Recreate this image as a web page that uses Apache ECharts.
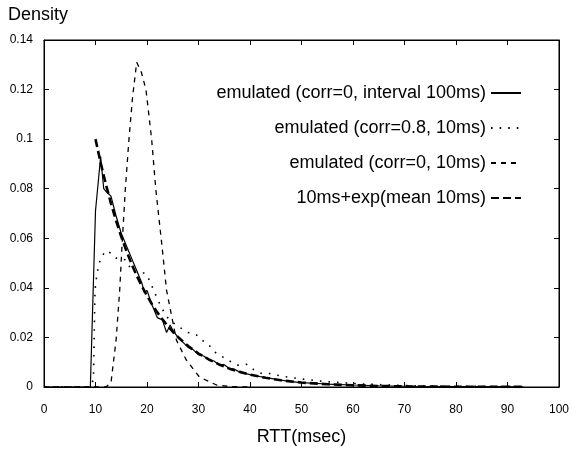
<!DOCTYPE html>
<html>
<head>
<meta charset="utf-8">
<script src="https://cdn.jsdelivr.net/npm/echarts@6/dist/echarts.min.js"></script>
<style>
  html, body { margin: 0; padding: 0; background: #fff; }
  #chart { width: 572px; height: 452px; }
</style>
</head>
<body>
<div id="chart"></div>
<script>
// legend names
var names = [
  'emulated (corr=0, interval 100ms)',
  'emulated (corr=0.8, 10ms)',
  'emulated (corr=0, 10ms)',
  '10ms+exp(mean 10ms)'
];

// corr=0, interval 100ms (solid)
var rttSolid  = [0, 9, 10, 11, 11.6, 12, 13, 14, 15, 16, 17, 18, 19, 19.5, 20, 21, 22, 23, 23.8, 24.5, 25, 26, 27, 28, 29, 30, 31, 32, 33, 34, 35, 36, 37, 38, 40, 42, 44, 46, 48, 50, 55, 60, 65, 70, 80, 93];
var densSolid = [0, 0, 0.071, 0.093, 0.080, 0.079, 0.077, 0.069, 0.062, 0.057, 0.052, 0.047, 0.042, 0.038, 0.039, 0.033, 0.028, 0.027, 0.022, 0.025, 0.023, 0.020, 0.018, 0.016, 0.015, 0.013, 0.0125, 0.011, 0.0105, 0.009, 0.009, 0.0075, 0.0072, 0.006, 0.005, 0.0042, 0.0035, 0.0028, 0.0022, 0.0018, 0.0012, 0.0008, 0.0005, 0.0003, 0.0002, 0.0001];

// corr=0.8, 10ms (dotted)
var rttDot  = [0, 9, 9.6, 9.9, 10.3, 11, 12, 13, 14, 15, 16, 17, 18, 19, 19.6, 20.5, 21.5, 22.8, 24, 25, 26.4, 28, 29.6, 30.6, 32, 33, 34.4, 36, 37.7, 39.3, 40.7, 42.2, 44, 46, 49.3, 52, 54.7, 58, 62, 66, 70, 75, 80, 86, 93];
var densDot = [0, 0, 0.003, 0.039, 0.046, 0.052, 0.055, 0.054, 0.052, 0.052, 0.051, 0.047, 0.046, 0.046, 0.046, 0.043, 0.038, 0.032, 0.028, 0.026, 0.024, 0.022, 0.021, 0.019, 0.017, 0.0143, 0.0125, 0.0105, 0.0088, 0.0092, 0.007, 0.0055, 0.0054, 0.0044, 0.0034, 0.0028, 0.0022, 0.0017, 0.0012, 0.0009, 0.0006, 0.0004, 0.0003, 0.0002, 0.0001];

// corr=0, 10ms (dashed)
var rttDash  = [0, 12, 13, 14, 14.7, 15.2, 15.8, 16.5, 17.2, 18, 18.9, 19.8, 20.9, 21.7, 22.8, 23.8, 25.7, 27.6, 30.2, 33.5, 36, 40];
var densDash = [0, 0, 0.0016, 0.019, 0.039, 0.059, 0.080, 0.100, 0.117, 0.131, 0.127, 0.120, 0.100, 0.080, 0.059, 0.039, 0.019, 0.011, 0.004, 0.0008, 0.0002, 0];

// 10ms + exp(mean 10ms) (thick dashed)
var rttExp  = [10, 11, 12, 13, 14, 15, 16, 17, 18, 19, 20, 21, 22, 23, 24, 25, 26, 27, 28, 29, 30, 32, 34, 36, 38, 40, 43, 46, 50, 55, 60, 65, 70, 80, 93];
var densExp = [0.100, 0.0905, 0.0819, 0.0741, 0.0670, 0.0607, 0.0549, 0.0497, 0.0449, 0.0407, 0.0368, 0.0333, 0.0301, 0.0273, 0.0247, 0.0223, 0.0202, 0.0183, 0.0165, 0.0150, 0.0135, 0.0111, 0.0091, 0.0074, 0.0061, 0.0050, 0.0037, 0.0027, 0.0018, 0.0011, 0.0007, 0.0004, 0.00025, 0.0001, 0.00003];

function pairs(xs, ys) {
  return xs.map(function (x, i) { return [x, ys[i]]; });
}

var font = 'Liberation Sans, Arial, Helvetica, sans-serif';
var chart = echarts.init(document.getElementById('chart'), null, { renderer: 'canvas' });

// gnuplot style: frame on all sides, ticks pointing inward
function axisCommon(extra) {
  var base = {
    axisLine: { show: true, onZero: false, lineStyle: { color: '#000', width: 1 } },
    axisTick: { show: true, inside: true, length: 5, lineStyle: { color: '#000', width: 1 } },
    splitLine: { show: false },
    axisLabel: { color: '#000', fontSize: 12, fontFamily: font }
  };
  for (var k in extra) base[k] = extra[k];
  return base;
}

function mkSeries(name, data, width, dash) {
  return {
    name: name,
    type: 'line',
    data: data,
    symbol: 'none',
    animation: false,
    lineStyle: { color: '#000', width: width, type: dash, cap: 'butt' },
    itemStyle: { color: '#000' }
  };
}

chart.setOption({
  backgroundColor: '#fff',
  animation: false,
  grid: { left: 44, right: 12, top: 40, bottom: 65, containLabel: false, show: true, borderColor: '#000', borderWidth: 1, backgroundColor: 'transparent' },
  legend: {
    orient: 'vertical',
    right: 45,
    top: 79,
    align: 'right',
    itemWidth: 30,
    itemHeight: 18,
    itemGap: 17,
    itemStyle: { opacity: 0 },
    textStyle: { color: '#000', fontSize: 18, fontFamily: font },
    data: names
  },
  xAxis: [
    axisCommon({
      type: 'value', min: 0, max: 100, interval: 10, position: 'bottom',
      name: 'RTT(msec)', nameLocation: 'middle', nameGap: 41,
      nameTextStyle: { color: '#000', fontSize: 18, fontFamily: font },
      axisLabel: { color: '#000', fontSize: 12, fontFamily: font, margin: 17 }
    }),
    axisCommon({
      type: 'value', min: 0, max: 100, interval: 10, position: 'top',
      axisLabel: { show: false }
    })
  ],
  yAxis: [
    axisCommon({
      type: 'value', min: 0, max: 0.14, interval: 0.02, position: 'left',
      name: 'Density', nameLocation: 'end', nameGap: 16,
      nameTextStyle: { color: '#000', fontSize: 18, fontFamily: font, align: 'left', padding: [0, 0, 0, -36] },
      axisLabel: { color: '#000', fontSize: 12, fontFamily: font, margin: 11 }
    }),
    axisCommon({
      type: 'value', min: 0, max: 0.14, interval: 0.02, position: 'right',
      axisLabel: { show: false }
    })
  ],
  series: [
    mkSeries(names[0], pairs(rttSolid, densSolid), 1.2, 'solid'),
    mkSeries(names[1], pairs(rttDot, densDot), 1.6, [1.6, 7]),
    mkSeries(names[2], pairs(rttDash, densDash), 1.3, [5, 5]),
    mkSeries(names[3], pairs(rttExp, densExp), 2.6, [8, 4])
  ]
});
</script>
</body>
</html>
